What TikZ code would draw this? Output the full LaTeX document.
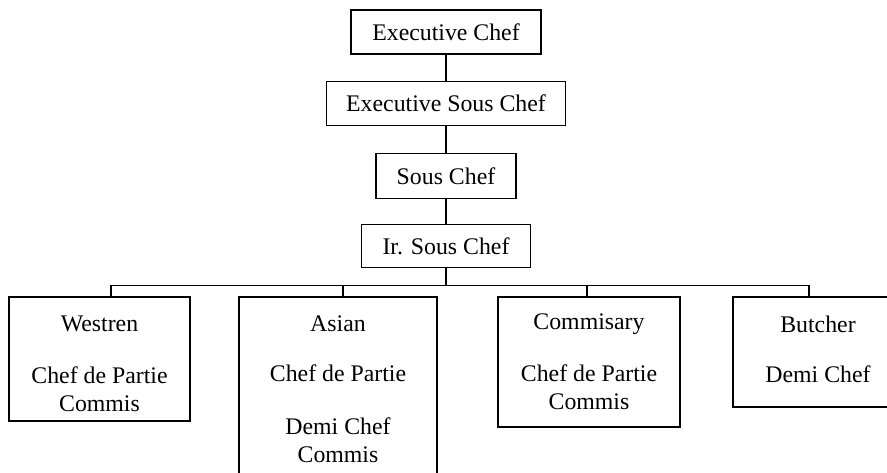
\documentclass[tikz,border=0pt]{standalone}
\usepackage{fontspec}
\setmainfont{Liberation Serif}
\usetikzlibrary{positioning}

\begin{document}
\begin{tikzpicture}[x=1pt, y=-1pt, every node/.style={font=\fontsize{23.8}{28.5}\selectfont}]
\tikzstyle{post}=[draw, rectangle, line width=1.2pt, inner sep=0pt, align=center]
\tikzstyle{link}=[line width=1.2pt]

\useasboundingbox (0,0) rectangle (887,473);
\clip (0,0) rectangle (887,473);

% head of the kitchen
\node[post, minimum width=190, minimum height=44] (exec) at (446,32) {Executive Chef};
\node[post, minimum width=239, minimum height=44, below=26pt of exec] (esc) {Executive Sous Chef};
\node[post, minimum width=140, minimum height=45, below=27pt of esc] (sous) {Sous Chef};
\node[post, minimum width=169, minimum height=43, below=25pt of sous] (jr) {Ir. Sous Chef};

\draw[link] (exec.south) -- (esc.north);
\draw[link] (esc.south) -- (sous.north);
\draw[link] (sous.south) -- (jr.south |- sous.south) -- (jr.north);

% sections
\node[post, minimum width=181, minimum height=124] (west) at (99.5,359) {\rule{0pt}{26pt}Westren\\[23pt]Chef de Partie\\Commis};
\node[post, minimum width=198, minimum height=184] (asian) at (338,389) {Asian\\[22pt]Chef de Partie\\[24pt]Demi Chef\\Commis};
\node[post, minimum width=182, minimum height=130] (commis) at (589,362) {Commisary\\[23pt]Chef de Partie\\Commis};
\node[post, minimum width=170, minimum height=110] (butcher) at (818,352) {Butcher\\[22pt]Demi Chef\rule[-6pt]{0pt}{6pt}};

\path (jr.south) ++(0,17) coordinate (bus);
\draw[link] (jr.south) -- (bus);
\draw[link] (bus) -| ([xshift=11.5pt]west.north);
\draw[link] (bus) -| ([xshift=5pt]asian.north);
\draw[link] (bus) -| ([xshift=-2pt]commis.north);
\draw[link] (bus) -| ([xshift=-9pt]butcher.north);
\end{tikzpicture}
\end{document}
